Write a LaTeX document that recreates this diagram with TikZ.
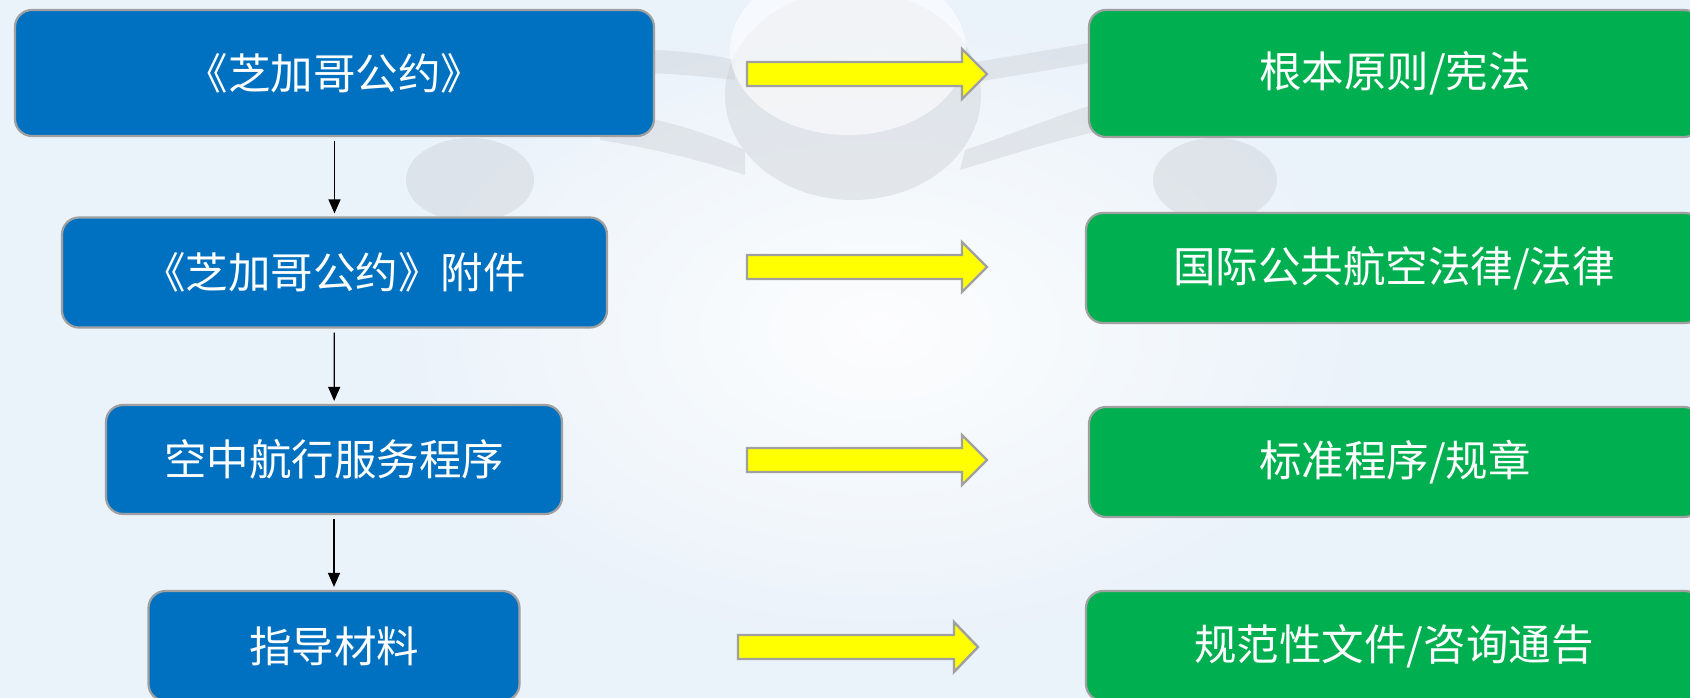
\documentclass[tikz,border=0pt]{standalone}
\usepackage{fontspec}
\newfontfamily\cjk{Noto Sans CJK SC}
\usetikzlibrary{arrows.meta}
\definecolor{bboxc}{RGB}{0,112,192}
\definecolor{gboxc}{RGB}{0,176,80}
\definecolor{edgec}{RGB}{160,160,160}
\definecolor{bgc}{RGB}{234,242,250}
\definecolor{planec}{RGB}{206,210,216}
\definecolor{yelc}{RGB}{255,255,0}
\newcommand\yarr[4]{\draw[yarrow] (#1,#4-12) -- (#2,#4-12) -- (#2,#4-25) -- (#3,#4) -- (#2,#4+25) -- (#2,#4+12) -- (#1,#4+12) -- cycle;}
\begin{document}
\begin{tikzpicture}[x=1pt,y=-1pt,
  box/.style={draw=edgec, line width=2.2pt, rounded corners=17pt, text=white,
    font=\cjk\fontsize{42.5}{50}\selectfont, inner sep=0pt},
  bluebox/.style={box, fill=bboxc},
  greenbox/.style={box, fill=gboxc},
  varrow/.style={-{Triangle[length=14pt,width=12pt]}, line width=1.2pt, black,
    shorten <=4pt, shorten >=3pt},
  yarrow/.style={fill=yelc, draw=edgec, line width=2.4pt, line join=miter},
  plane/.style={fill=planec, draw=none, opacity=0.45}]
\useasboundingbox (0,0) rectangle (1690,698);
\clip (0,0) rectangle (1690,698);
\fill[bgc] (0,0) rectangle (1690,698);
\shade[inner color=white, outer color=bgc, opacity=0.9] (880,330) ellipse [x radius=520, y radius=330];
% faint airplane in background
\fill[plane] (600,50) .. controls (660,48) and (700,52) .. (735,60) -- (735,80) .. controls (700,76) and (660,72) .. (600,72) -- cycle;
\fill[plane] (600,110) .. controls (660,118) and (700,130) .. (745,150) -- (745,175) .. controls (700,160) and (660,150) .. (600,140) -- cycle;
\fill[plane] (975,62) .. controls (1020,55) and (1060,48) .. (1095,42) -- (1095,62) .. controls (1060,68) and (1020,75) .. (975,82) -- cycle;
\fill[plane] (965,150) .. controls (1010,135) and (1050,118) .. (1095,104) -- (1095,132) .. controls (1050,142) and (1010,155) .. (960,170) -- cycle;
\fill[plane] (853,95) ellipse [x radius=128, y radius=105];
\fill[white, opacity=0.6] (848,50) ellipse [x radius=118, y radius=85];
\fill[plane] (470,180) ellipse [x radius=64, y radius=42];
\fill[plane] (1215,180) ellipse [x radius=62, y radius=42];
% left column
\node[bluebox, minimum width=639pt, minimum height=126pt] (b1) at (334.5,73) {《芝加哥公约》};
\node[bluebox, minimum width=545pt, minimum height=110pt] (b2) at (334.5,272.5) {《芝加哥公约》附件};
\node[bluebox, minimum width=456pt, minimum height=109pt] (b3) at (334,459.5) {空中航行服务程序};
\node[bluebox, minimum width=371pt, minimum height=110pt] (b4) at (334,646) {指导材料};
\draw[varrow] (b1) -- (b2);
\draw[varrow] (b2) -- (b3);
\draw[varrow] (b3) -- (b4);
% right column
\node[greenbox, minimum width=612pt, minimum height=127pt] (g1) at (1395,73.5) {根本原则/宪法};
\node[greenbox, minimum width=616pt, minimum height=110pt] (g2) at (1394,268) {国际公共航空法律/法律};
\node[greenbox, minimum width=612pt, minimum height=110pt] (g3) at (1395,462) {标准程序/规章};
\node[greenbox, minimum width=616pt, minimum height=110pt] (g4) at (1394,646) {规范性文件/咨询通告};
% yellow arrows
\yarr{747}{962}{987}{74}
\yarr{747}{962}{987}{267}
\yarr{747}{962}{987}{460}
\yarr{738}{954}{978}{647}
\end{tikzpicture}
\end{document}
